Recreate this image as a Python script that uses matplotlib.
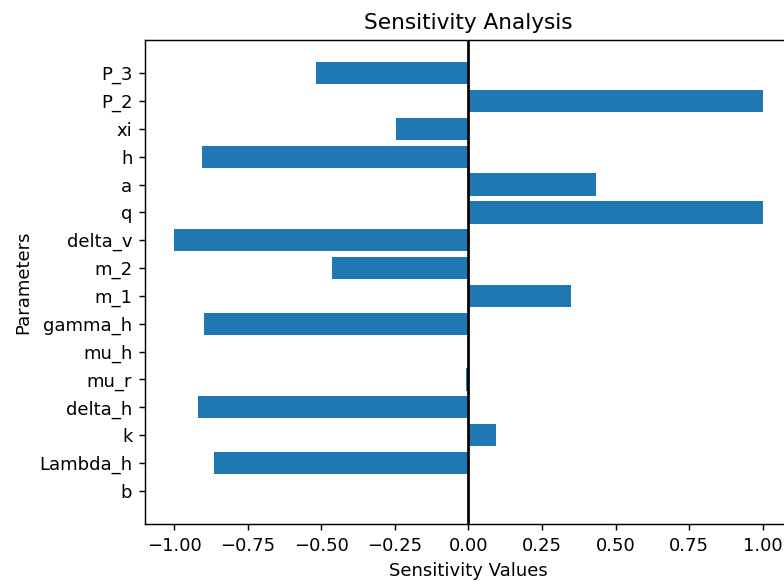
import matplotlib
matplotlib.use('Agg')
import matplotlib.pyplot as plt

# parameter names, bottom to top
params = ['b', 'Lambda_h', 'k', 'delta_h', 'mu_r', 'mu_h', 'gamma_h', 'm_1',
          'm_2', 'delta_v', 'q', 'a', 'h', 'xi', 'P_2', 'P_3']
sensitivity = [0.0, -0.866, 0.093, -0.920, -0.009, 0.0, -0.898, 0.347,
               -0.463, -1.0, 1.0, 0.432, -0.907, -0.248, 1.0, -0.519]

dpi = 130
fig = plt.figure(figsize=(784 / dpi, 581 / dpi), dpi=dpi)
ax = fig.add_axes([145 / 784, 57 / 581, 647 / 784, 484 / 581])

ax.barh(params, sensitivity, color='#1f77b4')
ax.axvline(0, color='black')

ax.set_xlabel('Sensitivity Values')
ax.set_ylabel('Parameters')
ax.set_title('Sensitivity Analysis')

fig.savefig('out.png', dpi=dpi)
plt.close('all')
